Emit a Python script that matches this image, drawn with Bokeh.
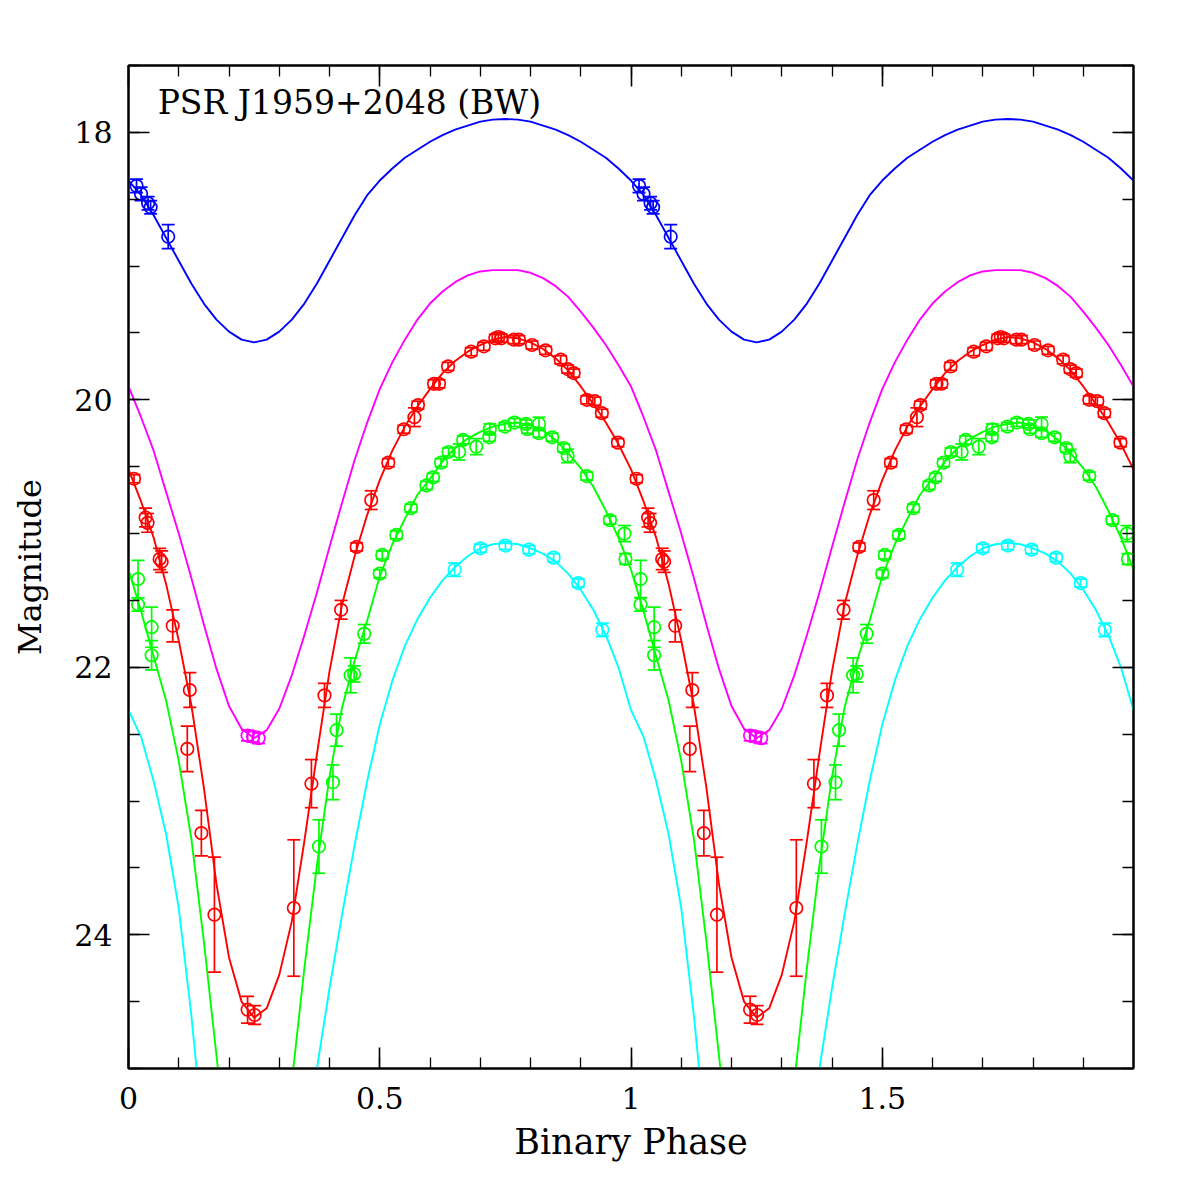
from bokeh.plotting import figure
from bokeh.models import (Range1d, LinearAxis, FixedTicker, Whisker, ColumnDataSource,
                          TeeHead, Label, CustomJSTickFormatter)
from bokeh.embed import file_html
from bokeh.resources import INLINE

# ---------------- data (one orbital cycle, phase 0..1; plotted twice) ----------------
model_phase = [0.000, 0.025, 0.050, 0.075, 0.100, 0.125, 0.150, 0.175, 0.200, 0.225,
               0.250, 0.275, 0.300, 0.325, 0.350, 0.375, 0.400, 0.425, 0.450, 0.475,
               0.500, 0.525, 0.550, 0.575, 0.600, 0.625, 0.650, 0.675, 0.700, 0.725,
               0.750, 0.775, 0.800, 0.825, 0.850, 0.875, 0.900, 0.925, 0.950, 0.975, 1.000]

blue_model = [18.36, 18.47, 18.62, 18.79, 18.96, 19.13, 19.28, 19.40, 19.49, 19.55,
              19.57, 19.55, 19.49, 19.40, 19.28, 19.13, 18.96, 18.79, 18.62, 18.47,
              18.36, 18.27, 18.19, 18.13, 18.07, 18.02, 17.98, 17.95, 17.92, 17.905,
              17.90, 17.905, 17.92, 17.95, 17.98, 18.02, 18.07, 18.13, 18.19, 18.27, 18.36]

magenta_model = [19.90, 20.13, 20.38, 20.69, 21.00, 21.33, 21.68, 22.01, 22.29, 22.46,
                 22.53, 22.47, 22.31, 22.06, 21.76, 21.44, 21.10, 20.77, 20.45, 20.17,
                 19.92, 19.72, 19.55, 19.40, 19.28, 19.19, 19.12, 19.07, 19.04, 19.03,
                 19.03, 19.03, 19.05, 19.09, 19.15, 19.23, 19.34, 19.46, 19.59, 19.74, 19.90]

red_model = [20.52, 20.76, 21.03, 21.38, 21.80, 22.28, 22.90, 23.62, 24.17, 24.50,
             24.62, 24.55, 24.30, 23.90, 23.30, 22.65, 22.03, 21.53, 21.17, 20.86,
             20.60, 20.38, 20.20, 20.05, 19.92, 19.80, 19.71, 19.64, 19.59, 19.55,
             19.53, 19.54, 19.57, 19.62, 19.69, 19.78, 19.90, 20.03, 20.17, 20.33, 20.52]

green_model = [21.27, 21.58, 21.92, 22.25, 22.70, 23.28, 24.05, 24.90, 25.75, 26.40,
               26.60, 26.40, 25.90, 25.10, 24.25, 23.48, 22.82, 22.30, 21.95, 21.65,
               21.32, 21.08, 20.89, 20.71, 20.59, 20.46, 20.36, 20.29, 20.24, 20.20,
               20.18, 20.17, 20.19, 20.23, 20.30, 20.40, 20.51, 20.65, 20.83, 21.03, 21.27]

cyan_model = [22.32, 22.52, 22.85, 23.25, 23.80, 24.60, 25.55, 26.60, 27.50, 28.20,
              28.50, 28.20, 27.50, 26.60, 25.65, 25.00, 24.40, 23.85, 23.33, 22.85,
              22.43, 22.10, 21.84, 21.64, 21.48, 21.35, 21.25, 21.17, 21.11, 21.08,
              21.07, 21.08, 21.11, 21.15, 21.21, 21.30, 21.42, 21.57, 21.76, 22.00, 22.32]

blue_phase = [0.016, 0.025, 0.039, 0.044, 0.079]
blue_mag = [18.40, 18.46, 18.53, 18.56, 18.78]
blue_err = [0.05, 0.05, 0.05, 0.05, 0.09]

magenta_phase = [0.237, 0.248, 0.259]
magenta_mag = [22.51, 22.52, 22.53]
magenta_err = [0.04, 0.04, 0.04]

red_phase = [0.011, 0.034, 0.038, 0.062, 0.066, 0.088, 0.117, 0.122, 0.145, 0.171,
             0.237, 0.251, 0.329, 0.364, 0.390, 0.423, 0.454, 0.483, 0.517, 0.548,
             0.569, 0.576, 0.608, 0.618, 0.636, 0.682, 0.707, 0.730, 0.736, 0.742,
             0.767, 0.777, 0.803, 0.830, 0.860, 0.874, 0.886, 0.912, 0.928, 0.942, 0.974]
red_mag = [20.59, 20.88, 20.92, 21.19, 21.21, 21.69, 22.61, 22.17, 23.24, 23.85,
           24.56, 24.60, 23.80, 22.87, 22.21, 21.57, 21.10, 20.75, 20.47, 20.22,
           20.13, 20.04, 19.88, 19.88, 19.75, 19.64, 19.60, 19.54, 19.53, 19.54,
           19.55, 19.55, 19.59, 19.63, 19.70, 19.77, 19.80, 20.00, 20.01, 20.10, 20.32]
red_err = [0.03, 0.07, 0.07, 0.08, 0.08, 0.12, 0.17, 0.13, 0.17, 0.43,
           0.10, 0.07, 0.51, 0.18, 0.09, 0.07, 0.03, 0.07, 0.03, 0.03,
           0.07, 0.03, 0.03, 0.03, 0.03, 0.03, 0.03, 0.03, 0.03, 0.03,
           0.03, 0.03, 0.03, 0.03, 0.03, 0.03, 0.03, 0.03, 0.03, 0.03, 0.03]

green_phase = [0.019, 0.019, 0.046, 0.046, 0.379, 0.407, 0.414, 0.442, 0.449, 0.469,
               0.500, 0.505, 0.533, 0.562, 0.593, 0.606, 0.622, 0.637, 0.658, 0.666,
               0.692, 0.718, 0.719, 0.749, 0.768, 0.791, 0.794, 0.817, 0.817, 0.843,
               0.866, 0.874, 0.912, 0.958, 0.987, 0.989]
green_mag = [21.34, 21.53, 21.70, 21.91, 23.34, 22.86, 22.47, 22.06, 22.05, 21.75,
             21.30, 21.16, 21.01, 20.81, 20.64, 20.58, 20.47, 20.39, 20.39, 20.30,
             20.35, 20.28, 20.22, 20.20, 20.17, 20.18, 20.22, 20.18, 20.25, 20.28,
             20.36, 20.42, 20.57, 20.90, 21.00, 21.19]
green_err = [0.14, 0.05, 0.15, 0.11, 0.20, 0.13, 0.12, 0.13, 0.06, 0.07,
             0.03, 0.03, 0.03, 0.03, 0.03, 0.03, 0.03, 0.03, 0.06, 0.03,
             0.06, 0.03, 0.04, 0.03, 0.03, 0.03, 0.03, 0.05, 0.03, 0.03,
             0.03, 0.05, 0.03, 0.03, 0.06, 0.04]

cyan_phase = [0.649, 0.700, 0.750, 0.797, 0.846, 0.895, 0.943]
cyan_mag = [21.27, 21.11, 21.09, 21.12, 21.18, 21.37, 21.72]
cyan_err = [0.05, 0.03, 0.03, 0.03, 0.03, 0.03, 0.05]

x_major = [0, 0.5, 1, 1.5]
x_labels = ["0", "0.5", "1", "1.5"]
y_major = [18, 20, 22, 24]
y_labels = ["18", "20", "22", "24"]

TITLE = "PSR J1959+2048 (BW)"
FONT = "DejaVu Serif"

# ---------------- figure ----------------
p = figure(width=1196, height=1196, output_backend="svg", toolbar_location=None,
           x_range=Range1d(0, 2), y_range=Range1d(25, 17.5),
           min_border_left=128, min_border_right=63, min_border_top=65, min_border_bottom=128)
p.background_fill_color = "white"
p.border_fill_color = "white"
p.outline_line_color = "black"
p.outline_line_width = 2
p.xgrid.visible = False
p.ygrid.visible = False

x_minor = [round(0.1 * i, 1) for i in range(1, 20)]
y_minor = [17.5 + 0.5 * i for i in range(0, 16)]


def style_axis(ax, labels=True):
    ax.axis_line_color = "black"
    ax.axis_line_width = 2
    ax.major_tick_in = 21
    ax.major_tick_out = 0
    ax.minor_tick_in = 11
    ax.minor_tick_out = 0
    ax.major_tick_line_width = 1.6
    ax.minor_tick_line_width = 1.3
    ax.major_tick_line_color = "black"
    ax.minor_tick_line_color = "black"
    if labels:
        ax.major_label_text_font = FONT
        ax.major_label_text_font_size = "30px"
        ax.major_label_text_color = "black"
        ax.axis_label_text_font = FONT
        ax.axis_label_text_font_style = "normal"
        ax.axis_label_text_color = "black"
    else:
        ax.formatter = CustomJSTickFormatter(code="return '';")
        ax.major_label_standoff = 0


p.xaxis.ticker = FixedTicker(ticks=x_major, minor_ticks=x_minor)
p.yaxis.ticker = FixedTicker(ticks=y_major, minor_ticks=y_minor)
p.xaxis.major_label_overrides = dict(zip(x_major, x_labels))
p.yaxis.major_label_overrides = dict(zip(y_major, y_labels))
p.xaxis.axis_label = "Binary Phase"
p.yaxis.axis_label = "Magnitude"
style_axis(p.xaxis[0])
style_axis(p.yaxis[0])
p.xaxis.axis_label_text_font_size = "35px"
p.yaxis.axis_label_text_font_size = "32px"
p.xaxis.major_label_standoff = 18
p.yaxis.major_label_standoff = 16
p.xaxis.axis_label_standoff = 10
p.yaxis.axis_label_standoff = 22

top = LinearAxis(ticker=FixedTicker(ticks=x_major, minor_ticks=x_minor))
style_axis(top, labels=False)
p.add_layout(top, "above")
right = LinearAxis(ticker=FixedTicker(ticks=y_major, minor_ticks=y_minor))
style_axis(right, labels=False)
p.add_layout(right, "right")


def two_cycles(ph, vals):
    xs = list(ph) + [v + 1.0 for v in ph[1:]]
    ys = list(vals) + list(vals[1:])
    return xs, ys


series = [
    ("#00ffff", cyan_model, cyan_phase, cyan_mag, cyan_err),
    ("#00ff00", green_model, green_phase, green_mag, green_err),
    ("#ff0000", red_model, red_phase, red_mag, red_err),
    ("#ff00ff", magenta_model, magenta_phase, magenta_mag, magenta_err),
    ("#0000ff", blue_model, blue_phase, blue_mag, blue_err),
]

for color, model, ph, mag, err in series:
    mx, my = two_cycles(model_phase, model)
    p.line(mx, my, line_color=color, line_width=1.9, line_join="round")

for color, model, ph, mag, err in series:
    xs = list(ph) + [v + 1.0 for v in ph]
    ys = list(mag) + list(mag)
    es = list(err) + list(err)
    src = ColumnDataSource(dict(x=xs, y=ys,
                                lo=[a - b for a, b in zip(ys, es)],
                                hi=[a + b for a, b in zip(ys, es)]))
    w = Whisker(source=src, base="x", lower="lo", upper="hi", dimension="height",
                line_color=color, line_width=1.7,
                upper_head=TeeHead(size=13, line_color=color, line_width=1.7),
                lower_head=TeeHead(size=13, line_color=color, line_width=1.7))
    p.add_layout(w)
    p.scatter("x", "y", source=src, marker="circle", size=12.5,
              fill_color=None, line_color=color, line_width=1.7)

title = Label(x=0.058, y=17.776, x_units="data", y_units="data", text=TITLE,
              text_font=FONT, text_font_size="33px", text_color="black",
              text_baseline="alphabetic", text_align="left")
p.add_layout(title)

open("out.html", "w").write(file_html(p, INLINE))
